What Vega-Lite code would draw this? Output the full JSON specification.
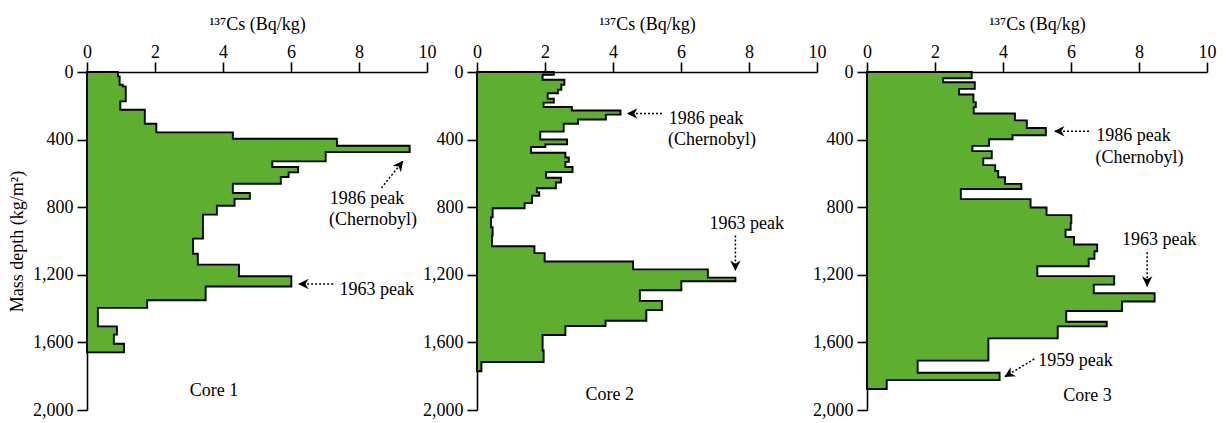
{
  "$schema": "https://vega.github.io/schema/vega-lite/v6.json",
  "background": "white",
  "padding": {"left": 8, "top": 15, "right": 5, "bottom": 5},
  "bounds": "flush",
  "spacing": 50,
  "config": {
    "font": "Liberation Serif",
    "view": {"stroke": null},
    "axis": {
      "labelFont": "Liberation Serif", "labelFontSize": 18, "labelColor": "black",
      "titleFont": "Liberation Serif", "titleFontSize": 18, "titleFontWeight": "normal", "titleColor": "black",
      "domainColor": "black", "domainWidth": 1.6, "tickColor": "black", "tickWidth": 1.6,
      "grid": false, "labelOverlap": false, "labelFlush": false
    }
  },
  "datasets": {
    "profiles": [
      {"core": "Core 1", "top": 0, "bottom": 26, "cs": 0.91},
      {"core": "Core 1", "top": 26, "bottom": 75, "cs": 0.96},
      {"core": "Core 1", "top": 75, "bottom": 85, "cs": 1.05},
      {"core": "Core 1", "top": 85, "bottom": 174, "cs": 1.14},
      {"core": "Core 1", "top": 174, "bottom": 223, "cs": 0.98},
      {"core": "Core 1", "top": 223, "bottom": 306, "cs": 1.70},
      {"core": "Core 1", "top": 306, "bottom": 357, "cs": 2.04},
      {"core": "Core 1", "top": 357, "bottom": 395, "cs": 4.29},
      {"core": "Core 1", "top": 395, "bottom": 436, "cs": 7.35},
      {"core": "Core 1", "top": 436, "bottom": 474, "cs": 9.49},
      {"core": "Core 1", "top": 474, "bottom": 529, "cs": 7.02},
      {"core": "Core 1", "top": 529, "bottom": 562, "cs": 5.45},
      {"core": "Core 1", "top": 562, "bottom": 594, "cs": 6.21},
      {"core": "Core 1", "top": 594, "bottom": 621, "cs": 5.93},
      {"core": "Core 1", "top": 621, "bottom": 661, "cs": 5.70},
      {"core": "Core 1", "top": 661, "bottom": 716, "cs": 4.29},
      {"core": "Core 1", "top": 716, "bottom": 751, "cs": 4.79},
      {"core": "Core 1", "top": 751, "bottom": 791, "cs": 4.34},
      {"core": "Core 1", "top": 791, "bottom": 844, "cs": 3.82},
      {"core": "Core 1", "top": 844, "bottom": 986, "cs": 3.41},
      {"core": "Core 1", "top": 986, "bottom": 1075, "cs": 3.12},
      {"core": "Core 1", "top": 1075, "bottom": 1140, "cs": 3.26},
      {"core": "Core 1", "top": 1140, "bottom": 1209, "cs": 4.47},
      {"core": "Core 1", "top": 1209, "bottom": 1269, "cs": 6.01},
      {"core": "Core 1", "top": 1269, "bottom": 1351, "cs": 3.49},
      {"core": "Core 1", "top": 1351, "bottom": 1396, "cs": 1.77},
      {"core": "Core 1", "top": 1396, "bottom": 1505, "cs": 0.32},
      {"core": "Core 1", "top": 1505, "bottom": 1554, "cs": 0.88},
      {"core": "Core 1", "top": 1554, "bottom": 1608, "cs": 0.79},
      {"core": "Core 1", "top": 1608, "bottom": 1659, "cs": 1.09},

      {"core": "Core 2", "top": 0, "bottom": 16, "cs": 2.26},
      {"core": "Core 2", "top": 16, "bottom": 46, "cs": 1.93},
      {"core": "Core 2", "top": 46, "bottom": 75, "cs": 2.57},
      {"core": "Core 2", "top": 75, "bottom": 105, "cs": 2.48},
      {"core": "Core 2", "top": 105, "bottom": 126, "cs": 2.38},
      {"core": "Core 2", "top": 126, "bottom": 158, "cs": 2.08},
      {"core": "Core 2", "top": 158, "bottom": 181, "cs": 2.26},
      {"core": "Core 2", "top": 181, "bottom": 207, "cs": 1.96},
      {"core": "Core 2", "top": 207, "bottom": 228, "cs": 2.79},
      {"core": "Core 2", "top": 228, "bottom": 252, "cs": 4.22},
      {"core": "Core 2", "top": 252, "bottom": 281, "cs": 3.79},
      {"core": "Core 2", "top": 281, "bottom": 306, "cs": 2.97},
      {"core": "Core 2", "top": 306, "bottom": 353, "cs": 2.55},
      {"core": "Core 2", "top": 353, "bottom": 399, "cs": 1.86},
      {"core": "Core 2", "top": 399, "bottom": 428, "cs": 2.65},
      {"core": "Core 2", "top": 428, "bottom": 444, "cs": 2.01},
      {"core": "Core 2", "top": 444, "bottom": 478, "cs": 1.59},
      {"core": "Core 2", "top": 478, "bottom": 506, "cs": 2.60},
      {"core": "Core 2", "top": 506, "bottom": 532, "cs": 2.70},
      {"core": "Core 2", "top": 532, "bottom": 562, "cs": 2.60},
      {"core": "Core 2", "top": 562, "bottom": 592, "cs": 2.81},
      {"core": "Core 2", "top": 592, "bottom": 626, "cs": 2.03},
      {"core": "Core 2", "top": 626, "bottom": 654, "cs": 2.47},
      {"core": "Core 2", "top": 654, "bottom": 688, "cs": 2.32},
      {"core": "Core 2", "top": 688, "bottom": 711, "cs": 1.76},
      {"core": "Core 2", "top": 711, "bottom": 732, "cs": 1.83},
      {"core": "Core 2", "top": 732, "bottom": 776, "cs": 1.62},
      {"core": "Core 2", "top": 776, "bottom": 806, "cs": 1.40},
      {"core": "Core 2", "top": 806, "bottom": 860, "cs": 0.46},
      {"core": "Core 2", "top": 860, "bottom": 919, "cs": 0.41},
      {"core": "Core 2", "top": 919, "bottom": 968, "cs": 0.46},
      {"core": "Core 2", "top": 968, "bottom": 1031, "cs": 0.44},
      {"core": "Core 2", "top": 1031, "bottom": 1072, "cs": 1.69},
      {"core": "Core 2", "top": 1072, "bottom": 1121, "cs": 1.99},
      {"core": "Core 2", "top": 1121, "bottom": 1168, "cs": 4.59},
      {"core": "Core 2", "top": 1168, "bottom": 1217, "cs": 6.79},
      {"core": "Core 2", "top": 1217, "bottom": 1238, "cs": 7.60},
      {"core": "Core 2", "top": 1238, "bottom": 1291, "cs": 6.01},
      {"core": "Core 2", "top": 1291, "bottom": 1354, "cs": 4.79},
      {"core": "Core 2", "top": 1354, "bottom": 1409, "cs": 5.44},
      {"core": "Core 2", "top": 1409, "bottom": 1472, "cs": 4.98},
      {"core": "Core 2", "top": 1472, "bottom": 1503, "cs": 3.78},
      {"core": "Core 2", "top": 1503, "bottom": 1556, "cs": 2.60},
      {"core": "Core 2", "top": 1556, "bottom": 1648, "cs": 1.93},
      {"core": "Core 2", "top": 1648, "bottom": 1716, "cs": 1.96},
      {"core": "Core 2", "top": 1716, "bottom": 1771, "cs": 0.13},

      {"core": "Core 3", "top": 0, "bottom": 37, "cs": 3.08},
      {"core": "Core 3", "top": 37, "bottom": 61, "cs": 2.24},
      {"core": "Core 3", "top": 61, "bottom": 100, "cs": 3.17},
      {"core": "Core 3", "top": 100, "bottom": 133, "cs": 2.71},
      {"core": "Core 3", "top": 133, "bottom": 178, "cs": 3.13},
      {"core": "Core 3", "top": 178, "bottom": 208, "cs": 3.20},
      {"core": "Core 3", "top": 208, "bottom": 246, "cs": 3.14},
      {"core": "Core 3", "top": 246, "bottom": 286, "cs": 4.35},
      {"core": "Core 3", "top": 286, "bottom": 331, "cs": 4.70},
      {"core": "Core 3", "top": 331, "bottom": 374, "cs": 5.26},
      {"core": "Core 3", "top": 374, "bottom": 398, "cs": 4.28},
      {"core": "Core 3", "top": 398, "bottom": 437, "cs": 3.59},
      {"core": "Core 3", "top": 437, "bottom": 468, "cs": 3.10},
      {"core": "Core 3", "top": 468, "bottom": 511, "cs": 3.67},
      {"core": "Core 3", "top": 511, "bottom": 551, "cs": 3.42},
      {"core": "Core 3", "top": 551, "bottom": 586, "cs": 3.77},
      {"core": "Core 3", "top": 586, "bottom": 623, "cs": 3.86},
      {"core": "Core 3", "top": 623, "bottom": 662, "cs": 4.06},
      {"core": "Core 3", "top": 662, "bottom": 692, "cs": 4.54},
      {"core": "Core 3", "top": 692, "bottom": 752, "cs": 2.76},
      {"core": "Core 3", "top": 752, "bottom": 802, "cs": 4.81},
      {"core": "Core 3", "top": 802, "bottom": 847, "cs": 5.28},
      {"core": "Core 3", "top": 847, "bottom": 894, "cs": 6.01},
      {"core": "Core 3", "top": 894, "bottom": 933, "cs": 5.99},
      {"core": "Core 3", "top": 933, "bottom": 976, "cs": 5.84},
      {"core": "Core 3", "top": 976, "bottom": 1021, "cs": 6.09},
      {"core": "Core 3", "top": 1021, "bottom": 1061, "cs": 6.77},
      {"core": "Core 3", "top": 1061, "bottom": 1105, "cs": 6.69},
      {"core": "Core 3", "top": 1105, "bottom": 1149, "cs": 6.52},
      {"core": "Core 3", "top": 1149, "bottom": 1208, "cs": 5.01},
      {"core": "Core 3", "top": 1208, "bottom": 1258, "cs": 7.27},
      {"core": "Core 3", "top": 1258, "bottom": 1309, "cs": 6.67},
      {"core": "Core 3", "top": 1309, "bottom": 1358, "cs": 8.46},
      {"core": "Core 3", "top": 1358, "bottom": 1414, "cs": 7.50},
      {"core": "Core 3", "top": 1414, "bottom": 1478, "cs": 5.86},
      {"core": "Core 3", "top": 1478, "bottom": 1505, "cs": 7.05},
      {"core": "Core 3", "top": 1505, "bottom": 1576, "cs": 5.61},
      {"core": "Core 3", "top": 1576, "bottom": 1708, "cs": 3.57},
      {"core": "Core 3", "top": 1708, "bottom": 1780, "cs": 1.49},
      {"core": "Core 3", "top": 1780, "bottom": 1823, "cs": 3.90},
      {"core": "Core 3", "top": 1823, "bottom": 1876, "cs": 0.58}
    ],
    "labels": [
      {"core": "Core 1", "x": 7.14, "y": 779, "text": "1986 peak"},
      {"core": "Core 1", "x": 7.12, "y": 908, "text": "(Chernobyl)"},
      {"core": "Core 1", "x": 7.43, "y": 1318, "text": "1963 peak"},
      {"core": "Core 1", "x": 3.02, "y": 1919, "text": "Core 1"},
      {"core": "Core 2", "x": 5.64, "y": 305, "text": "1986 peak"},
      {"core": "Core 2", "x": 5.62, "y": 434, "text": "(Chernobyl)"},
      {"core": "Core 2", "x": 6.84, "y": 928, "text": "1963 peak"},
      {"core": "Core 2", "x": 3.19, "y": 1938, "text": "Core 2"},
      {"core": "Core 3", "x": 6.74, "y": 409, "text": "1986 peak"},
      {"core": "Core 3", "x": 6.72, "y": 537, "text": "(Chernobyl)"},
      {"core": "Core 3", "x": 7.50, "y": 1021, "text": "1963 peak"},
      {"core": "Core 3", "x": 5.04, "y": 1737, "text": "1959 peak"},
      {"core": "Core 3", "x": 5.77, "y": 1946, "text": "Core 3"}
    ],
    "arrows": [
      {"core": "Core 1", "x": 8.66, "y": 686, "x2": 9.30, "y2": 525, "angle": 38},
      {"core": "Core 1", "x": 7.24, "y": 1254, "x2": 6.21, "y2": 1254, "angle": 270},
      {"core": "Core 2", "x": 5.44, "y": 246, "x2": 4.41, "y2": 246, "angle": 270},
      {"core": "Core 2", "x": 7.60, "y": 968, "x2": 7.60, "y2": 1178, "angle": 180},
      {"core": "Core 3", "x": 6.53, "y": 351, "x2": 5.50, "y2": 351, "angle": 270},
      {"core": "Core 3", "x": 8.24, "y": 1066, "x2": 8.24, "y2": 1270, "angle": 180},
      {"core": "Core 3", "x": 4.92, "y": 1698, "x2": 4.04, "y2": 1805, "angle": 239}
    ]
  },
  "hconcat": [
    {
      "width": 340, "height": 338,
      "layer": [
        {
          "data": {"name": "profiles"},
          "transform": [{"filter": "datum.core === 'Core 1'"}, {"fold": ["top", "bottom"], "as": ["edge", "depth"]}],
          "mark": {"type": "area", "orient": "horizontal", "fill": "#5eae30", "stroke": "black", "strokeWidth": 1.9, "strokeJoin": "miter"},
          "encoding": {
            "x": {"field": "cs", "type": "quantitative", "stack": null, "scale": {"domain": [0, 10]},
              "axis": {"orient": "top", "values": [0,1,2,3,4,5,6,7,8,9,10], "labelExpr": "datum.value % 2 === 0 ? datum.label : ''",
                "tickSize": {"condition": {"test": "datum.value % 2 === 0", "value": 10}, "value": 5},
                "labelPadding": 1, "title": "¹³⁷Cs (Bq/kg)", "titlePadding": 10}},
            "y": {"field": "depth", "type": "quantitative", "scale": {"domain": [0, 2000], "reverse": true},
              "axis": {"values": [0,200,400,600,800,1000,1200,1400,1600,1800,2000], "format": ",d",
                "labelExpr": "datum.value % 400 === 0 ? datum.label : ''",
                "tickSize": {"condition": {"test": "datum.value % 400 === 0", "value": 10}, "value": 5},
                "labelPadding": 4, "title": "Mass depth (kg/m²)", "titlePadding": 6}},
            "order": [{"field": "depth", "type": "quantitative"}, {"field": "edge", "type": "nominal"}]
          }
        },
        {
          "data": {"name": "arrows"},
          "transform": [{"filter": "datum.core === 'Core 1'"}],
          "mark": {"type": "rule", "color": "black", "strokeWidth": 1.5, "strokeDash": [2, 2]},
          "encoding": {
            "x": {"field": "x", "type": "quantitative"}, "y": {"field": "y", "type": "quantitative"},
            "x2": {"field": "x2"}, "y2": {"field": "y2"}
          }
        },
        {
          "data": {"name": "arrows"},
          "transform": [{"filter": "datum.core === 'Core 1'"}],
          "mark": {"type": "point", "shape": "M0,0 L1,2 L0,1.4 L-1,2 Z", "filled": true, "fill": "black", "size": 110, "opacity": 1, "strokeWidth": 0},
          "encoding": {
            "x": {"field": "x2", "type": "quantitative"}, "y": {"field": "y2", "type": "quantitative"},
            "angle": {"field": "angle", "type": "quantitative", "scale": null}
          }
        },
        {
          "data": {"name": "labels"},
          "transform": [{"filter": "datum.core === 'Core 1'"}],
          "mark": {"type": "text", "align": "left", "baseline": "alphabetic", "font": "Liberation Serif", "fontSize": 18, "color": "black"},
          "encoding": {
            "x": {"field": "x", "type": "quantitative"}, "y": {"field": "y", "type": "quantitative"},
            "text": {"field": "text", "type": "nominal"}
          }
        }
      ]
    },
    {
      "width": 340, "height": 338,
      "layer": [
        {
          "data": {"name": "profiles"},
          "transform": [{"filter": "datum.core === 'Core 2'"}, {"fold": ["top", "bottom"], "as": ["edge", "depth"]}],
          "mark": {"type": "area", "orient": "horizontal", "fill": "#5eae30", "stroke": "black", "strokeWidth": 1.9, "strokeJoin": "miter"},
          "encoding": {
            "x": {"field": "cs", "type": "quantitative", "stack": null, "scale": {"domain": [0, 10]},
              "axis": {"orient": "top", "values": [0,1,2,3,4,5,6,7,8,9,10], "labelExpr": "datum.value % 2 === 0 ? datum.label : ''",
                "tickSize": {"condition": {"test": "datum.value % 2 === 0", "value": 10}, "value": 5},
                "labelPadding": 1, "title": "¹³⁷Cs (Bq/kg)", "titlePadding": 10}},
            "y": {"field": "depth", "type": "quantitative", "scale": {"domain": [0, 2000], "reverse": true},
              "axis": {"values": [0,200,400,600,800,1000,1200,1400,1600,1800,2000], "format": ",d",
                "labelExpr": "datum.value % 400 === 0 ? datum.label : ''",
                "tickSize": {"condition": {"test": "datum.value % 400 === 0", "value": 10}, "value": 5},
                "labelPadding": 4, "title": null}},
            "order": [{"field": "depth", "type": "quantitative"}, {"field": "edge", "type": "nominal"}]
          }
        },
        {
          "data": {"name": "arrows"},
          "transform": [{"filter": "datum.core === 'Core 2'"}],
          "mark": {"type": "rule", "color": "black", "strokeWidth": 1.5, "strokeDash": [2, 2]},
          "encoding": {
            "x": {"field": "x", "type": "quantitative"}, "y": {"field": "y", "type": "quantitative"},
            "x2": {"field": "x2"}, "y2": {"field": "y2"}
          }
        },
        {
          "data": {"name": "arrows"},
          "transform": [{"filter": "datum.core === 'Core 2'"}],
          "mark": {"type": "point", "shape": "M0,0 L1,2 L0,1.4 L-1,2 Z", "filled": true, "fill": "black", "size": 110, "opacity": 1, "strokeWidth": 0},
          "encoding": {
            "x": {"field": "x2", "type": "quantitative"}, "y": {"field": "y2", "type": "quantitative"},
            "angle": {"field": "angle", "type": "quantitative", "scale": null}
          }
        },
        {
          "data": {"name": "labels"},
          "transform": [{"filter": "datum.core === 'Core 2'"}],
          "mark": {"type": "text", "align": "left", "baseline": "alphabetic", "font": "Liberation Serif", "fontSize": 18, "color": "black"},
          "encoding": {
            "x": {"field": "x", "type": "quantitative"}, "y": {"field": "y", "type": "quantitative"},
            "text": {"field": "text", "type": "nominal"}
          }
        }
      ]
    },
    {
      "width": 340, "height": 338,
      "layer": [
        {
          "data": {"name": "profiles"},
          "transform": [{"filter": "datum.core === 'Core 3'"}, {"fold": ["top", "bottom"], "as": ["edge", "depth"]}],
          "mark": {"type": "area", "orient": "horizontal", "fill": "#5eae30", "stroke": "black", "strokeWidth": 1.9, "strokeJoin": "miter"},
          "encoding": {
            "x": {"field": "cs", "type": "quantitative", "stack": null, "scale": {"domain": [0, 10]},
              "axis": {"orient": "top", "values": [0,1,2,3,4,5,6,7,8,9,10], "labelExpr": "datum.value % 2 === 0 ? datum.label : ''",
                "tickSize": {"condition": {"test": "datum.value % 2 === 0", "value": 10}, "value": 5},
                "labelPadding": 1, "title": "¹³⁷Cs (Bq/kg)", "titlePadding": 10}},
            "y": {"field": "depth", "type": "quantitative", "scale": {"domain": [0, 2000], "reverse": true},
              "axis": {"values": [0,200,400,600,800,1000,1200,1400,1600,1800,2000], "format": ",d",
                "labelExpr": "datum.value % 400 === 0 ? datum.label : ''",
                "tickSize": {"condition": {"test": "datum.value % 400 === 0", "value": 10}, "value": 5},
                "labelPadding": 4, "title": null}},
            "order": [{"field": "depth", "type": "quantitative"}, {"field": "edge", "type": "nominal"}]
          }
        },
        {
          "data": {"name": "arrows"},
          "transform": [{"filter": "datum.core === 'Core 3'"}],
          "mark": {"type": "rule", "color": "black", "strokeWidth": 1.5, "strokeDash": [2, 2]},
          "encoding": {
            "x": {"field": "x", "type": "quantitative"}, "y": {"field": "y", "type": "quantitative"},
            "x2": {"field": "x2"}, "y2": {"field": "y2"}
          }
        },
        {
          "data": {"name": "arrows"},
          "transform": [{"filter": "datum.core === 'Core 3'"}],
          "mark": {"type": "point", "shape": "M0,0 L1,2 L0,1.4 L-1,2 Z", "filled": true, "fill": "black", "size": 110, "opacity": 1, "strokeWidth": 0},
          "encoding": {
            "x": {"field": "x2", "type": "quantitative"}, "y": {"field": "y2", "type": "quantitative"},
            "angle": {"field": "angle", "type": "quantitative", "scale": null}
          }
        },
        {
          "data": {"name": "labels"},
          "transform": [{"filter": "datum.core === 'Core 3'"}],
          "mark": {"type": "text", "align": "left", "baseline": "alphabetic", "font": "Liberation Serif", "fontSize": 18, "color": "black"},
          "encoding": {
            "x": {"field": "x", "type": "quantitative"}, "y": {"field": "y", "type": "quantitative"},
            "text": {"field": "text", "type": "nominal"}
          }
        }
      ]
    }
  ]
}
